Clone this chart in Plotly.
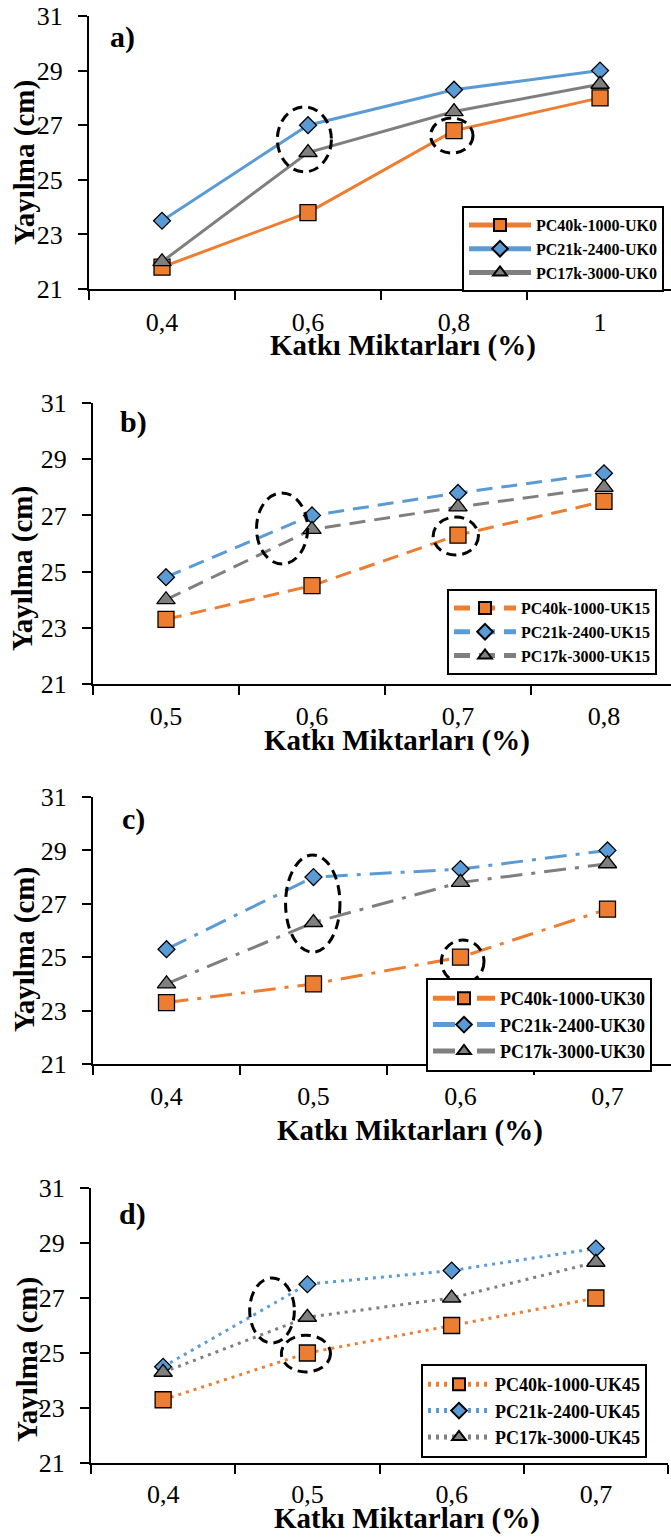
import plotly.graph_objects as go

W, H = 671, 1537
SERIF = "Liberation Serif"

# Katkı miktarları (%) for each panel
x_a = ["0,4", "0,6", "0,8", "1"]
x_b = ["0,5", "0,6", "0,7", "0,8"]
x_c = ["0,4", "0,5", "0,6", "0,7"]
x_d = ["0,4", "0,5", "0,6", "0,7"]

# Yayılma (cm)
pc40_uk0 = [21.8, 23.8, 26.8, 28.0]
pc21_uk0 = [23.5, 27.0, 28.3, 29.0]
pc17_uk0 = [22.0, 26.0, 27.5, 28.5]

pc40_uk15 = [23.3, 24.5, 26.3, 27.5]
pc21_uk15 = [24.8, 27.0, 27.8, 28.5]
pc17_uk15 = [24.0, 26.5, 27.3, 28.0]

pc40_uk30 = [23.3, 24.0, 25.0, 26.8]
pc21_uk30 = [25.3, 28.0, 28.3, 29.0]
pc17_uk30 = [24.0, 26.3, 27.8, 28.5]

pc40_uk45 = [23.3, 25.0, 26.0, 27.0]
pc21_uk45 = [24.5, 27.5, 28.0, 28.8]
pc17_uk45 = [24.3, 26.3, 27.0, 28.3]

y_ticks = [21, 23, 25, 27, 29, 31]

# highlighted regions: (x0, x1, y0, y1) in category index / cm
rings_a = [(0.79, 1.16, 25.29, 27.67), (1.84, 2.13, 25.98, 27.26)]
rings_b = [(0.62, 0.97, 25.27, 27.80), (1.83, 2.14, 25.59, 26.94)]
rings_c = [(0.81, 1.18, 25.19, 28.83), (1.87, 2.16, 24.03, 25.64)]
rings_d = [(0.60, 0.91, 25.36, 27.73), (0.82, 1.16, 24.31, 25.65)]

ORANGE = "#ED7D31"
BLUE = "#5B9BD5"
GRAY = "#7F7F7F"


def px_x(p):
    return p / W


def px_y(p):
    return 1 - p / H


# panel layout in pixels: plot left, plot right, top (31), bottom (21), x range end
panels = [
    dict(key="a", x=x_a, series=[pc40_uk0, pc21_uk0, pc17_uk0], suffix="UK0", dash="solid",
         left=89, right=671, top=16, bottom=289, xend=3.486, rings=rings_a,
         ytitle=(24, 163), label=(122, 37), xtitle=(403, 345),
         legend=(462, 249), lfont=16, standoff_x=9),
    dict(key="b", x=x_b, series=[pc40_uk15, pc21_uk15, pc17_uk15], suffix="UK15", dash="16px,9px",
         left=93, right=671, top=403, bottom=684, xend=3.459, rings=rings_b,
         ytitle=(22, 569), label=(133, 422), xtitle=(397, 740),
         legend=(447, 632), lfont=16, standoff_x=8),
    dict(key="c", x=x_c, series=[pc40_uk30, pc21_uk30, pc17_uk30], suffix="UK30", dash="22px,9px,4px,9px",
         left=93, right=671, top=797, bottom=1064, xend=3.432, rings=rings_c,
         ytitle=(24, 950), label=(133, 819), xtitle=(410, 1130),
         legend=(426, 1025), lfont=18, standoff_x=8),
    dict(key="d", x=x_d, series=[pc40_uk45, pc21_uk45, pc17_uk45], suffix="UK45", dash="3px,5px",
         left=91, right=668, top=1188, bottom=1463, xend=3.5, rings=rings_d,
         ytitle=(27, 1360), label=(132, 1214), xtitle=(407, 1518),
         legend=(421, 1411), lfont=18, standoff_x=7),
]

names = ["PC40k-1000-", "PC21k-2400-", "PC17k-3000-"]
colors = [ORANGE, BLUE, GRAY]
symbols = ["square", "diamond", "triangle-up"]
sizes = [16, 13, 16]

fig = go.Figure()
layout = dict(
    width=W, height=H,
    margin=dict(l=0, r=0, t=0, b=0, autoexpand=False),
    paper_bgcolor="white", plot_bgcolor="white",
    font=dict(family=SERIF, color="black"),
    showlegend=True,
)
shapes = []
annotations = []

for i, p in enumerate(panels):
    n = i + 1
    xa = "x" if n == 1 else f"x{n}"
    ya = "y" if n == 1 else f"y{n}"
    lg = "legend" if n == 1 else f"legend{n}"
    for j in range(3):
        fig.add_trace(go.Scatter(
            x=p["x"], y=p["series"][j], mode="lines+markers",
            name=names[j] + p["suffix"],
            xaxis=xa, yaxis=ya, legend=lg,
            line=dict(color=colors[j], width=3, dash=p["dash"]),
            marker=dict(symbol=symbols[j], size=sizes[j], color=colors[j],
                        line=dict(color="black", width=1.3)),
            cliponaxis=False,
        ))

    layout["xaxis" if n == 1 else f"xaxis{n}"] = dict(
        domain=[px_x(p["left"]), px_x(p["right"])],
        anchor=ya, type="category", range=[-0.5, p["xend"]],
        categoryorder="array", categoryarray=p["x"],
        showline=True, linecolor="black", linewidth=2,
        ticks="outside", tickson="boundaries", ticklen=9, tickwidth=2, tickcolor="black",
        ticklabelstandoff=p["standoff_x"],
        tickfont=dict(family=SERIF, size=26, color="black"),
        showgrid=False, zeroline=False, fixedrange=True,
    )
    layout["yaxis" if n == 1 else f"yaxis{n}"] = dict(
        domain=[px_y(p["bottom"]), px_y(p["top"])],
        anchor=xa, range=[21, 31], tickvals=y_ticks,
        showline=True, linecolor="black", linewidth=2,
        ticks="outside", ticklen=9, tickwidth=2, tickcolor="black",
        ticklabelstandoff=10,
        tickfont=dict(family=SERIF, size=26, color="black"),
        showgrid=False, zeroline=False, fixedrange=True,
    )
    layout[lg] = dict(
        x=px_x(p["legend"][0]), y=px_y(p["legend"][1]),
        xanchor="left", yanchor="middle", xref="paper", yref="paper",
        bgcolor="white", bordercolor="black", borderwidth=2,
        font=dict(family=SERIF, size=p["lfont"], color="black", weight="bold"),
        itemwidth=62, itemsizing="constant", tracegroupgap=0, traceorder="normal",
    )

    for (x0, x1, y0, y1) in p["rings"]:
        shapes.append(dict(type="circle", xref=xa, yref=ya, x0=x0, x1=x1, y0=y0, y1=y1,
                           line=dict(color="black", width=3, dash="10px,6px"),
                           layer="above"))

    annotations.append(dict(
        text="<b>Yayılma (cm)</b>", textangle=-90, showarrow=False,
        xref="paper", yref="paper", x=px_x(p["ytitle"][0]), y=px_y(p["ytitle"][1]),
        xanchor="center", yanchor="middle",
        font=dict(family=SERIF, size=29, color="black")))
    annotations.append(dict(
        text="<b>Katkı Miktarları (%)</b>", showarrow=False,
        xref="paper", yref="paper", x=px_x(p["xtitle"][0]), y=px_y(p["xtitle"][1]),
        xanchor="center", yanchor="middle",
        font=dict(family=SERIF, size=29, color="black")))
    annotations.append(dict(
        text=f"<b>{p['key']})</b>", showarrow=False,
        xref="paper", yref="paper", x=px_x(p["label"][0]), y=px_y(p["label"][1]),
        xanchor="center", yanchor="middle",
        font=dict(family=SERIF, size=30, color="black")))

layout["shapes"] = shapes
layout["annotations"] = annotations
fig.update_layout(**layout)

fig.write_html("out.html")
